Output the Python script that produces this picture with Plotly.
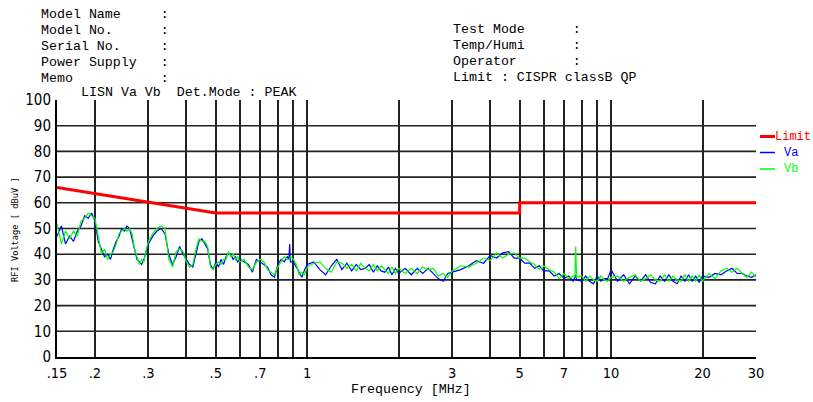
import math
import plotly.graph_objects as go

# ---------------- data ----------------
freq = [
    0.150, 0.155, 0.160, 0.165, 0.170, 0.175, 0.180, 0.185, 0.190, 0.195,
    0.200, 0.205, 0.210, 0.215, 0.220, 0.225, 0.230, 0.235, 0.240, 0.245,
    0.250, 0.255, 0.260, 0.265, 0.270, 0.275, 0.280, 0.285, 0.290, 0.295, 0.300,
    0.31, 0.32, 0.33, 0.34, 0.35, 0.36, 0.37, 0.38, 0.39, 0.40,
    0.41, 0.42, 0.43, 0.44, 0.45, 0.46, 0.47, 0.48, 0.49, 0.50,
    0.51, 0.52, 0.53, 0.54, 0.55, 0.56, 0.57, 0.58, 0.59, 0.60,
    0.62, 0.64, 0.66, 0.68, 0.70, 0.72, 0.74, 0.76, 0.78, 0.80, 0.82,
    0.84, 0.86, 0.87, 0.875, 0.88, 0.90, 0.92, 0.94, 0.96, 0.98, 1.00,
    1.05, 1.10, 1.15, 1.20, 1.25, 1.30, 1.35, 1.40, 1.45, 1.50,
    1.55, 1.60, 1.65, 1.70, 1.75, 1.80, 1.85, 1.90, 1.95, 2.00,
    2.1, 2.2, 2.3, 2.4, 2.5, 2.6, 2.7, 2.8, 2.9, 3.0,
    3.2, 3.4, 3.6, 3.8, 4.0, 4.2, 4.4, 4.6, 4.8, 5.0, 5.2, 5.4, 5.6, 5.8, 6.0,
    6.25, 6.5, 6.75, 7.0, 7.25, 7.5, 7.6, 7.65, 7.7, 8.0, 8.25, 8.5, 8.75,
    9.0, 9.25, 9.5, 9.75, 10.0,
    10.5, 11, 11.5, 12, 12.5, 13, 13.5, 14, 14.5, 15,
    15.5, 16, 16.5, 17, 17.5, 18, 18.5, 19, 19.5, 20,
    21, 22, 23, 24, 25, 26, 27, 28, 29, 30,
]

va = [
    47, 51, 44, 47, 45, 49, 51, 55, 54, 56, 53, 45, 42, 39, 40, 38, 42, 45, 47, 50,
    49, 51, 50, 46, 41, 38, 37, 36, 38, 41, 44,
    47, 49, 50, 48, 40, 36, 39, 43, 40, 38, 36, 35, 40, 45, 46, 44, 42, 36, 34, 37,
    35, 38, 36, 39, 40, 40, 38, 39, 37, 38,
    37, 36, 33, 38, 37, 36, 35, 32, 31, 36, 38, 37, 39, 38, 44, 37, 37, 35, 33, 31, 34, 36,
    37, 34, 32, 35.5, 38, 34, 36.5, 33.5, 36, 34, 34.5, 36, 33, 35.5, 33.5, 33, 35, 32, 34.5, 32.5,
    34.5, 32, 34.5, 32.5, 34.5, 32.5, 30.5, 29.5, 32.5, 33,
    34, 35.5, 37.5, 36.5, 39.5, 38.5, 40.5, 41, 38.5, 38.5, 36.5, 36.5, 34.5, 35.5, 33.5,
    33.5, 31.5, 32.5, 30.5, 31.5, 29.5, 31, 32, 30, 29.5, 31.5, 29.5, 28.5, 31.5, 29.5, 30.5, 30.5, 34,
    29.5, 32, 28.5, 31.5, 29.5, 32, 29, 28.5, 31.5, 29.5, 32, 29.5, 28.5, 31.5, 29.5, 32, 29.5, 31.5, 29, 31.5,
    31, 32.5, 32, 33.5, 34.5, 32.5, 32.5, 31.5, 31, 32,
]

vb = [
    52, 44, 49, 46, 49, 47, 53, 54, 56, 55, 54, 47, 40, 42, 38, 40, 41, 44, 48, 49,
    50, 49, 50, 48, 42, 39, 36, 38, 37, 42, 45,
    48, 50, 51, 50, 38, 35, 41, 42, 41, 37, 35, 36, 42, 46, 45, 45, 43, 35, 34, 36,
    37, 36, 38, 38, 41, 39, 40, 38, 39, 37,
    38, 35, 34, 37, 38, 37, 34, 33, 32, 35, 37, 39, 38, 38, 38, 39, 38, 36, 32, 33, 32, 35,
    36.5, 37, 34.5, 33, 37, 36.5, 34.5, 36, 33.5, 36.5, 34.5, 33.5, 36, 33.5, 35.5, 34, 32.5, 35, 32.5, 34.5,
    32.5, 34.5, 32.5, 35, 34, 34.5, 31.5, 32.5, 31, 33.5,
    35.5, 35, 36.5, 38.5, 37.5, 40.5, 38.5, 40, 40.5, 38.5, 38.5, 37, 36, 34, 35.5,
    34, 33, 30.5, 32.5, 30.5, 31.5, 31, 43, 31, 31.5, 29.5, 31.5, 30, 29.5, 31.5, 30, 29.5, 31,
    31.5, 29.5, 31, 32, 29.5, 30.5, 32, 30, 29.5, 32, 29.5, 31.5, 30, 29.5, 32, 29.5, 31.5, 29.5, 32, 29.5,
    32.5, 30.5, 33.5, 34.5, 33, 34.5, 32.5, 31, 33, 31,
]

limit_freq = [0.15, 0.5, 5, 5, 30]
limit_db = [66, 56, 56, 60, 60]

x_tickvals = [0.15, 0.2, 0.3, 0.4, 0.5, 0.6, 0.7, 0.8, 0.9, 1, 2, 3, 4, 5, 6, 7, 8, 9, 10, 20, 30]
x_ticktext = [".15", ".2", ".3", "", ".5", "", ".7", "", "", "1", "", "3", "", "5", "", "7", "", "", "10", "20", "30"]
y_tickvals = [0, 10, 20, 30, 40, 50, 60, 70, 80, 90, 100]
y_grid = [10, 20, 30, 40, 50, 60, 70, 80, 90]

header_left = ["Model Name     :", "Model No.      :", "Serial No.     :", "Power Supply   :", "Memo           :"]
header_right = ["Test Mode      :", "Temp/Humi      :", "Operator       :", "Limit : CISPR classB QP"]
subtitle = "LISN Va Vb  Det.Mode : PEAK"
legend_names = ["Limit", "Va", "Vb"]

assert len(freq) == len(va) == len(vb), (len(freq), len(va), len(vb))

# ---------------- layout geometry (page pixels) ----------------
W, H = 813, 402
L, R, T, B = 57, 57, 100, 45
PW, PH = W - L - R, H - T - B
MONO = "Liberation Mono, DejaVu Sans Mono, monospace"
NARROW = "Liberation Sans Narrow, DejaVu Sans Condensed, Liberation Sans, sans-serif"


def px(x):
    return (x - L) / PW


def py(y):
    return (H - B - y) / PH


fig = go.Figure()
fig.add_trace(go.Scatter(x=limit_freq, y=limit_db, mode="lines",
                         line=dict(color="#ff0000", width=3), showlegend=False))
fig.add_trace(go.Scatter(x=freq, y=va, mode="lines",
                         line=dict(color="#0000ff", width=1.2), showlegend=False))
fig.add_trace(go.Scatter(x=freq, y=vb, mode="lines",
                         line=dict(color="#00ff00", width=1.2), showlegend=False))

shapes = []
for v in y_grid:
    shapes.append(dict(type="line", xref="paper", yref="y", x0=0, x1=1, y0=v, y1=v,
                       line=dict(color="#222222", width=1.6), layer="below"))

annotations = []


def ann(text, x, y, size=13.3, color="black", xanchor="left", family=MONO, angle=0):
    annotations.append(dict(text=text, x=px(x), y=py(y), xref="paper", yref="paper",
                            xanchor=xanchor, yanchor="middle", showarrow=False,
                            textangle=angle, borderpad=0,
                            font=dict(family=family, size=size, color=color)))


for i, t in enumerate(header_left):
    ann(t.replace(" ", "&nbsp;"), 40, 14 + 16 * i)
for i, t in enumerate(header_right):
    ann(t.replace(" ", "&nbsp;"), 452, 29 + 16 * i)
ann(subtitle.replace(" ", "&nbsp;"), 80, 92)
ann("Frequency&nbsp;[MHz]", 411, 389, xanchor="center")
ann("RFI Voltage [ dBuV ]", 15, 230, size=8.7, xanchor="center", angle=-90,
    family="DejaVu Sans Mono, monospace")

leg_colors = ["#ff0000", "#0000ff", "#00ff00"]
leg_y = [136.5, 152.5, 169]
leg_tx = [774, 783, 783]
for name, c, yy, tx in zip(legend_names, leg_colors, leg_y, leg_tx):
    shapes.append(dict(type="line", xref="paper", yref="paper", x0=px(760), x1=px(775),
                       y0=py(yy), y1=py(yy),
                       line=dict(color=c, width=3 if name == "Limit" else 1.5)))
    ann(name, tx, yy, size=12, color=c)

fig.update_layout(
    width=W, height=H,
    margin=dict(l=L, r=R, t=T, b=B, pad=0),
    paper_bgcolor="white", plot_bgcolor="white",
    shapes=shapes, annotations=annotations,
    xaxis=dict(type="log", range=[math.log10(0.15), math.log10(30)],
               tickvals=x_tickvals, ticktext=x_ticktext,
               showgrid=True, gridcolor="#222222", gridwidth=1.6,
               showline=True, linecolor="black", linewidth=2,
               ticks="", ticklabelstandoff=2, zeroline=False,
               tickfont=dict(family=NARROW, size=14.5, color="black")),
    yaxis=dict(range=[0, 100], tickvals=y_tickvals,
               showgrid=False, showline=True, linecolor="black", linewidth=2,
               ticks="", ticklabelstandoff=1, zeroline=False,
               tickfont=dict(family=NARROW, size=15, color="black")),
)

# the page body would otherwise add an 8px margin around the figure
fig.write_html("out.html",
               config={"displayModeBar": False},
               post_script="document.body.style.margin='0';document.body.style.overflow='hidden';")
